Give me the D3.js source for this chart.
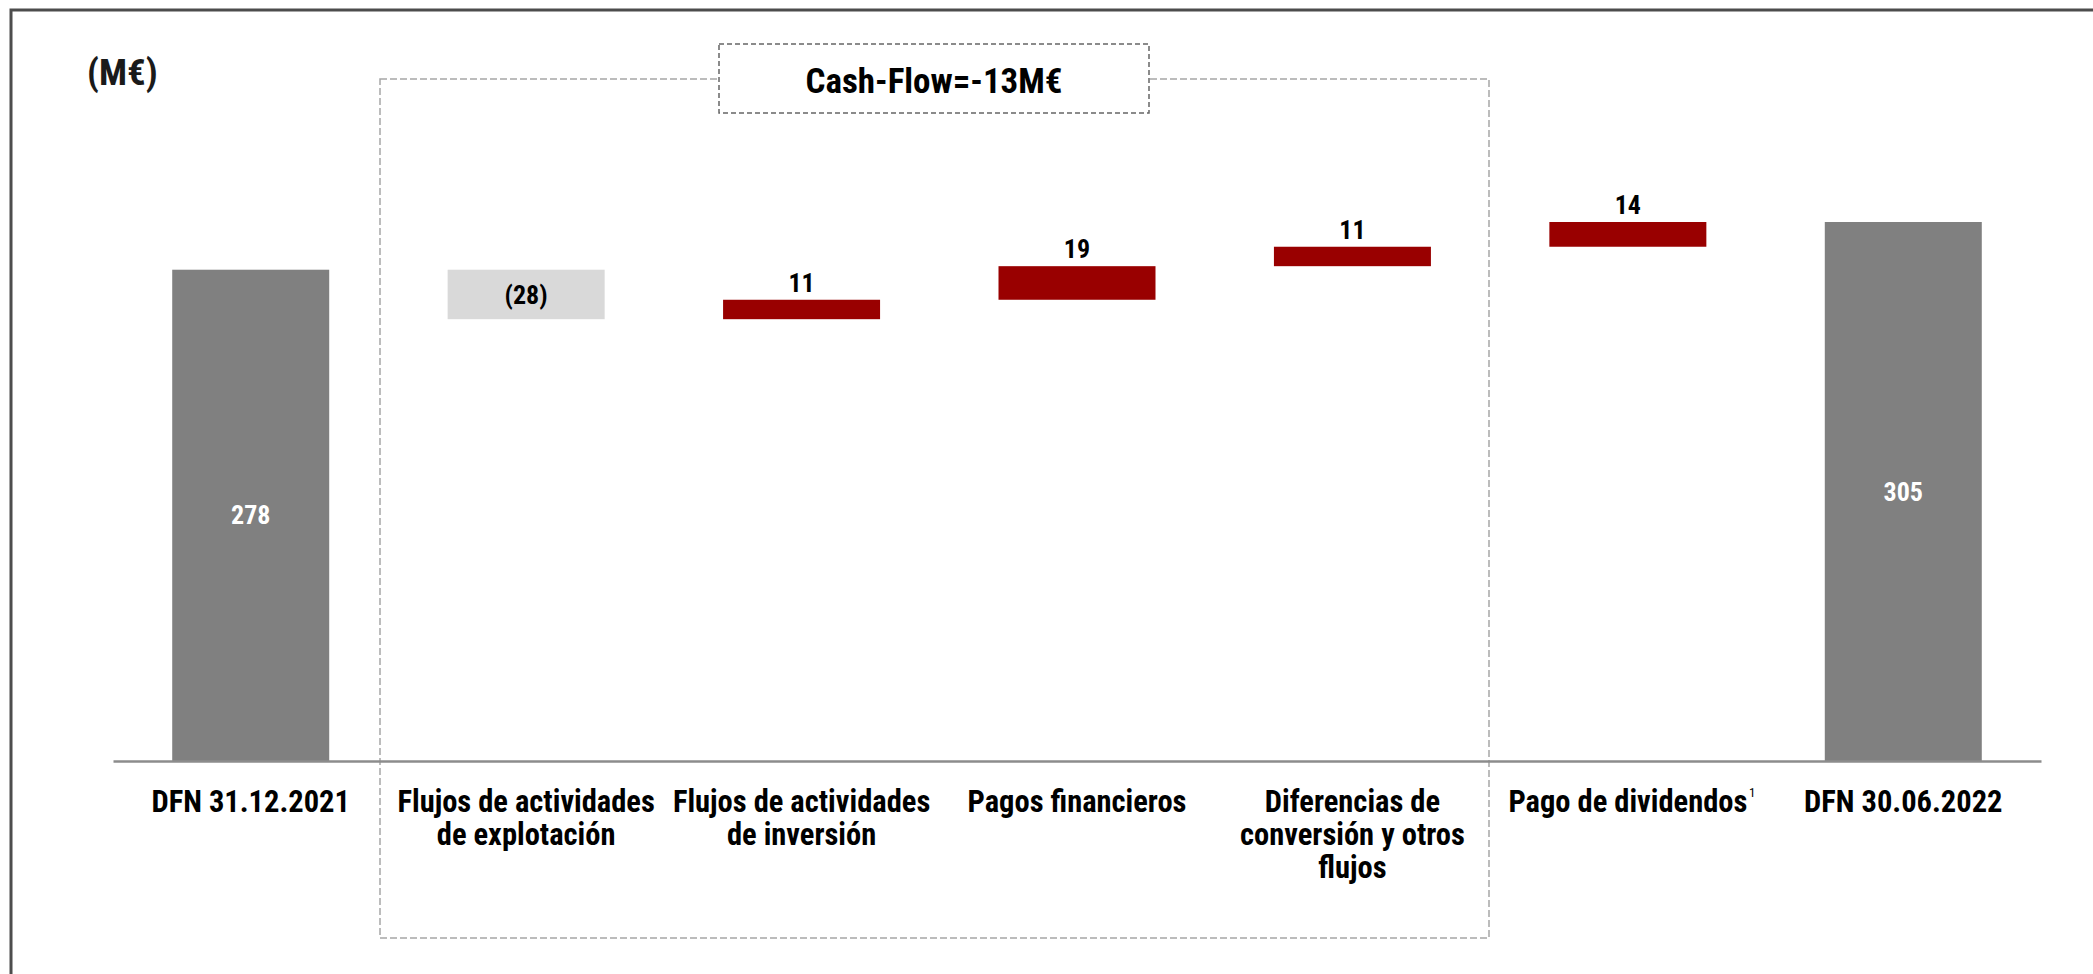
<!DOCTYPE html>
<html>
<head>
<meta charset="utf-8">
<script src="https://cdn.jsdelivr.net/npm/d3@7"></script>
<style>
  html, body { margin: 0; padding: 0; background: #ffffff; }
  svg text { font-family: "Liberation Sans Narrow", "Arial Narrow", "Roboto Condensed", "Liberation Sans", sans-serif; font-weight: bold; }
</style>
</head>
<body>
<svg id="chart"></svg>
<script>
// Chart data (M€)
const categories = ["DFN 31.12.2021", "Flujos explotación", "Flujos inversión", "Pagos financieros", "Diferencias conversión", "Pago de dividendos", "DFN 30.06.2022"];
const labelLines = [
    ["DFN 31.12.2021"],
    ["Flujos de actividades", "de explotación"],
    ["Flujos de actividades", "de inversión"],
    ["Pagos financieros"],
    ["Diferencias de", "conversión y otros", "flujos"],
    ["Pago de dividendos"],
    ["DFN 30.06.2022"]
];
const values = [278, -28, 11, 19, 11, 14, 305];
const barTypes = ["total", "delta", "delta", "delta", "delta", "delta", "total"];

const svgWidth = 2093, svgHeight = 974;

const svg = d3.select("#chart")
    .attr("width", svgWidth)
    .attr("height", svgHeight);

// Outer frame (only top and left edges visible)
svg.append("rect")
    .attr("x", 11).attr("y", 10)
    .attr("width", 2300).attr("height", 1200)
    .attr("fill", "none")
    .attr("stroke", "#4d4d4d")
    .attr("stroke-width", 3);

// Scales
const x = d3.scaleBand()
    .domain(categories)
    .range([113, 2041])
    .paddingInner(0.43)
    .paddingOuter(0.215);

const y = d3.scaleLinear()
    .domain([0, 305])
    .range([761, 222]);

// Waterfall positions
let running = 0;
const bars = categories.map((c, i) => {
    let lo, hi;
    if (barTypes[i] === "total") {
        lo = 0; hi = values[i]; running = values[i];
    } else {
        const next = running + values[i];
        lo = Math.min(running, next); hi = Math.max(running, next);
        running = next;
    }
    return { cat: c, value: values[i], type: barTypes[i], lo, hi };
});

const color = d => d.type === "total" ? "#808080" : (d.value < 0 ? "#d9d9d9" : "#990000");

// Cash-flow group box
svg.append("rect")
    .attr("x", 380).attr("y", 79)
    .attr("width", 1489 - 380).attr("height", 938 - 79)
    .attr("fill", "none")
    .attr("stroke", "#a6a6a6")
    .attr("stroke-width", 1.5)
    .attr("stroke-dasharray", "7,3");

svg.append("rect")
    .attr("x", 719).attr("y", 44)
    .attr("width", 430).attr("height", 69)
    .attr("fill", "#ffffff")
    .attr("stroke", "#666")
    .attr("stroke-width", 1.5)
    .attr("stroke-dasharray", "5,3");

svg.append("text")
    .attr("x", 934).attr("y", 93)
    .attr("text-anchor", "middle")
    .style("font-size", "35px")
    .attr("fill", "#000")
    .text("Cash-Flow=-13M€");

// Unit label
svg.append("text")
    .attr("x", 87).attr("y", 85)
    .style("font-size", "37px")
    .attr("fill", "#1a1a1a")
    .text("(M€)");

// Bars
svg.append("g").selectAll("rect")
    .data(bars)
    .join("rect")
    .attr("x", d => x(d.cat))
    .attr("width", x.bandwidth())
    .attr("y", d => y(d.hi))
    .attr("height", d => y(d.lo) - y(d.hi))
    .attr("fill", color);

// Value labels
const fmt = v => v < 0 ? `(${Math.abs(v)})` : `${v}`;
svg.append("g").selectAll("text")
    .data(bars)
    .join("text")
    .attr("x", d => x(d.cat) + x.bandwidth() / 2)
    .attr("y", d => {
        if (d.type === "total" || d.value < 0) return (y(d.lo) + y(d.hi)) / 2;
        return y(d.hi) - 8;
    })
    .attr("dy", d => (d.type === "total" || d.value < 0) ? "0.35em" : 0)
    .attr("text-anchor", "middle")
    .style("font-size", "26px")
    .attr("fill", d => d.type === "total" ? "#ffffff" : "#000000")
    .text(d => fmt(d.value));

// X axis with baseline
const xAxis = svg.append("g")
    .attr("transform", `translate(0, ${y(0)})`)
    .call(d3.axisBottom(x).tickSize(0).tickSizeOuter(0).tickPadding(0));

xAxis.select(".domain")
    .attr("stroke", "#8c8c8c")
    .attr("stroke-width", 2.5);

xAxis.selectAll(".tick text").each(function(d, i) {
    const t = d3.select(this);
    t.text(null)
        .attr("y", 51)
        .attr("dy", null)
        .attr("fill", "#000")
        .style("font-size", "30.5px")
        .style("font-family", null);
    labelLines[i].forEach((line, j) => {
        t.append("tspan")
            .attr("x", 0)
            .attr("dy", j === 0 ? 0 : 33)
            .text(line);
    });
});

// Footnote marker on "Pago de dividendos"
const divTick = xAxis.selectAll(".tick").filter(d => d === "Pago de dividendos");
const divWidth = divTick.select("text").node().getComputedTextLength();
divTick.append("text")
    .attr("x", divWidth / 2 + 5)
    .attr("y", 36)
    .attr("fill", "#000")
    .style("font-size", "13px")
    .style("font-weight", "normal")
    .text("1");
</script>
</body>
</html>
